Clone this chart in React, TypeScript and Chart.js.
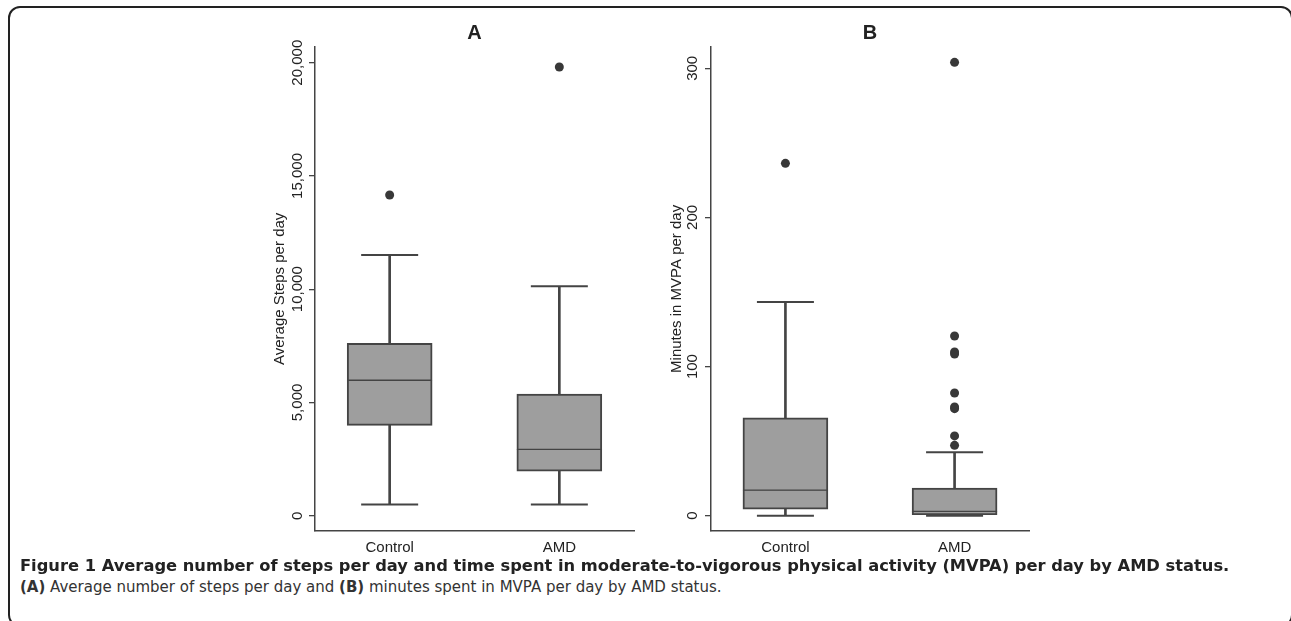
import React, { useEffect, useRef } from 'react';
import { Chart, registerables } from 'chart.js';

Chart.register(...registerables);

// ---------- data ----------
const categories = ['Control', 'AMD'];
const categoryPositions = [1, 2];

const stepsLowerWhisker = [500, 500];
const stepsQ1 = [3990, 1970];
const stepsMedian = [5980, 2930];
const stepsQ3 = [7610, 5370];
const stepsUpperWhisker = [11510, 10130];
const stepsOutliersControl = [14160];
const stepsOutliersAMD = [19810];
const stepsTicks = [0, 5000, 10000, 15000, 20000];

const mvpaLowerWhisker = [0, 0];
const mvpaQ1 = [4.3, 0.7];
const mvpaMedian = [17.2, 2.9];
const mvpaQ3 = [65.7, 18.6];
const mvpaUpperWhisker = [143.3, 42.5];
const mvpaOutliersControl = [236.3];
const mvpaOutliersAMD = [304, 120.5, 109.8, 108.4, 82.3, 72.9, 71.8, 53.5, 47.2];
const mvpaTicks = [0, 100, 200, 300];

// ---------- styles ----------
const FONT = '"Liberation Sans", Arial, Helvetica, sans-serif';
const LINE = '#444444';
const BOX_FILL = '#9e9e9e';
const DOT = '#383838';
const TEXT = '#222222';

type PanelSpec = {
  title: string;
  yTitle: string;
  lo: number[];
  q1: number[];
  med: number[];
  q3: number[];
  hi: number[];
  outControl: number[];
  outAMD: number[];
  ticks: number[];
  yMin: number;
  yMax: number;
  yAxisWidth: number;
  yTitlePad: number;
  yTickPad: number;
  canvasW: number;
  canvasH: number;
  rightPad: number;
};

function buildConfig(p: PanelSpec): any {
  const pts = (arr: number[]) => arr.map((v, i) => ({ x: categoryPositions[i], y: v }));
  const ranges = (a: number[], b: number[]) =>
    a.map((v, i) => ({ x: categoryPositions[i], y: [v, b[i]] }));
  const outliers = [
    ...p.outControl.map((v) => ({ x: categoryPositions[0], y: v })),
    ...p.outAMD.map((v) => ({ x: categoryPositions[1], y: v })),
  ];
  const boxCommon = {
    type: 'bar',
    backgroundColor: BOX_FILL,
    borderColor: LINE,
    borderSkipped: false,
    grouped: false,
    barThickness: 85,
    maxBarThickness: 85,
  };
  const whiskerCommon = {
    type: 'bar',
    backgroundColor: LINE,
    borderWidth: 0,
    grouped: false,
    barThickness: 2,
    maxBarThickness: 2,
  };
  return {
    type: 'bar',
    data: {
      datasets: [
        { ...boxCommon, data: ranges(p.med, p.q3), borderWidth: { top: 2, bottom: 1, left: 2, right: 2 } },
        { ...boxCommon, data: ranges(p.q1, p.med), borderWidth: { top: 1, bottom: 2, left: 2, right: 2 } },
        { ...whiskerCommon, data: ranges(p.q3, p.hi) },
        { ...whiskerCommon, data: ranges(p.lo, p.q1) },
        {
          type: 'scatter',
          data: [...pts(p.lo), ...pts(p.hi)],
          pointStyle: 'line',
          pointRadius: 28.5,
          pointHoverRadius: 28.5,
          pointBorderColor: LINE,
          pointBorderWidth: 2,
          showLine: false,
        },
        {
          type: 'scatter',
          data: outliers,
          pointRadius: 4.5,
          pointHoverRadius: 4.5,
          pointBackgroundColor: DOT,
          pointBorderColor: DOT,
          pointBorderWidth: 0,
          showLine: false,
        },
      ],
    },
    options: {
      responsive: false,
      maintainAspectRatio: false,
      animation: false,
      events: [],
      layout: { autoPadding: false, padding: { left: 0, right: p.rightPad, top: 0, bottom: 0 } },
      plugins: {
        legend: { display: false },
        tooltip: { enabled: false },
        title: {
          display: true,
          text: p.title,
          fullSize: false,
          color: TEXT,
          font: { family: FONT, size: 20, weight: 'bold' },
          padding: { top: 21, bottom: 2 },
        },
      },
      scales: {
        x: {
          type: 'linear',
          min: 0.56,
          max: 2.44,
          offset: false,
          grid: { display: false, drawTicks: false },
          border: { display: true, color: LINE, width: 1.5 },
          afterBuildTicks: (s: any) => {
            s.ticks = categoryPositions.map((v) => ({ value: v }));
          },
          afterFit: (s: any) => {
            s.height = p.canvasH - 530.7;
          },
          ticks: {
            autoSkip: false,
            minRotation: 0,
            maxRotation: 0,
            padding: 8,
            color: TEXT,
            font: { family: FONT, size: 15 },
            callback: (v: number) => {
              const i = categoryPositions.indexOf(v);
              return i >= 0 ? categories[i] : '';
            },
          },
        },
        y: {
          type: 'linear',
          min: p.yMin,
          max: p.yMax,
          grid: {
            display: true,
            drawOnChartArea: false,
            drawTicks: true,
            tickLength: 6,
            color: LINE,
            lineWidth: 1.3,
          },
          border: { display: true, color: LINE, width: 1.5 },
          afterBuildTicks: (s: any) => {
            s.ticks = p.ticks.map((v) => ({ value: v }));
          },
          afterFit: (s: any) => {
            s.width = p.yAxisWidth;
          },
          ticks: {
            autoSkip: false,
            minRotation: 90,
            maxRotation: 90,
            crossAlign: 'center',
            padding: p.yTickPad,
            color: TEXT,
            font: { family: FONT, size: 15 },
            callback: (v: number) => v.toLocaleString('en-US'),
          },
          title: {
            display: true,
            text: p.yTitle,
            color: TEXT,
            font: { family: FONT, size: 15 },
            padding: { top: p.yTitlePad, bottom: 0 },
          },
        },
      },
    },
  };
}

const panelA: PanelSpec = {
  title: 'A',
  yTitle: 'Average Steps per day',
  lo: stepsLowerWhisker,
  q1: stepsQ1,
  med: stepsMedian,
  q3: stepsQ3,
  hi: stepsUpperWhisker,
  outControl: stepsOutliersControl,
  outAMD: stepsOutliersAMD,
  ticks: stepsTicks,
  yMin: -662,
  yMax: 20693,
  yAxisWidth: 75,
  yTitlePad: 31,
  yTickPad: -12,
  canvasW: 420,
  canvasH: 565,
  rightPad: 26,
};

const panelB: PanelSpec = {
  title: 'B',
  yTitle: 'Minutes in MVPA per day',
  lo: mvpaLowerWhisker,
  q1: mvpaQ1,
  med: mvpaMedian,
  q3: mvpaQ3,
  hi: mvpaUpperWhisker,
  outControl: mvpaOutliersControl,
  outAMD: mvpaOutliersAMD,
  ticks: mvpaTicks,
  yMin: -10.06,
  yMax: 314.3,
  yAxisWidth: 51,
  yTitlePad: 8,
  yTickPad: -0.5,
  canvasW: 395,
  canvasH: 565,
  rightPad: 26,
};

function Panel({ spec, left }: { spec: PanelSpec; left: number }) {
  const ref = useRef<HTMLCanvasElement>(null);
  useEffect(() => {
    const chart = new Chart(ref.current as HTMLCanvasElement, buildConfig(spec));
    return () => chart.destroy();
  }, []);
  return (
    <canvas
      ref={ref}
      width={spec.canvasW}
      height={spec.canvasH}
      style={{ position: 'absolute', left, top: 0, width: spec.canvasW, height: spec.canvasH }}
    />
  );
}

const CAP_FONT = '"DejaVu Sans", "Open Sans", sans-serif';

export default function App() {
  return (
    <div
      style={{
        position: 'fixed',
        left: 0,
        top: 0,
        width: 1291,
        height: 621,
        overflow: 'hidden',
        background: '#ffffff',
      }}
    >
      <div
        style={{
          position: 'absolute',
          left: 8,
          top: 6,
          width: 1285,
          height: 621,
          boxSizing: 'border-box',
          border: '2px solid #222',
          borderRadius: 12,
        }}
      />
      <Panel spec={panelA} left={240} />
      <Panel spec={panelB} left={660} />
      <div
        style={{
          position: 'absolute',
          left: 20,
          top: 555,
          fontFamily: CAP_FONT,
          fontWeight: 700,
          fontSize: 16.3,
          lineHeight: '22px',
          color: '#222',
          whiteSpace: 'nowrap',
        }}
      >
        Figure 1 Average number of steps per day and time spent in moderate-to-vigorous physical activity (MVPA) per day by AMD status.
      </div>
      <div
        style={{
          position: 'absolute',
          left: 20,
          top: 577,
          fontFamily: CAP_FONT,
          fontWeight: 400,
          fontSize: 15,
          lineHeight: '20px',
          color: '#333',
          whiteSpace: 'nowrap',
        }}
      >
        <b>(A)</b> Average number of steps per day and <b>(B)</b> minutes spent in MVPA per day by AMD status.
      </div>
    </div>
  );
}
